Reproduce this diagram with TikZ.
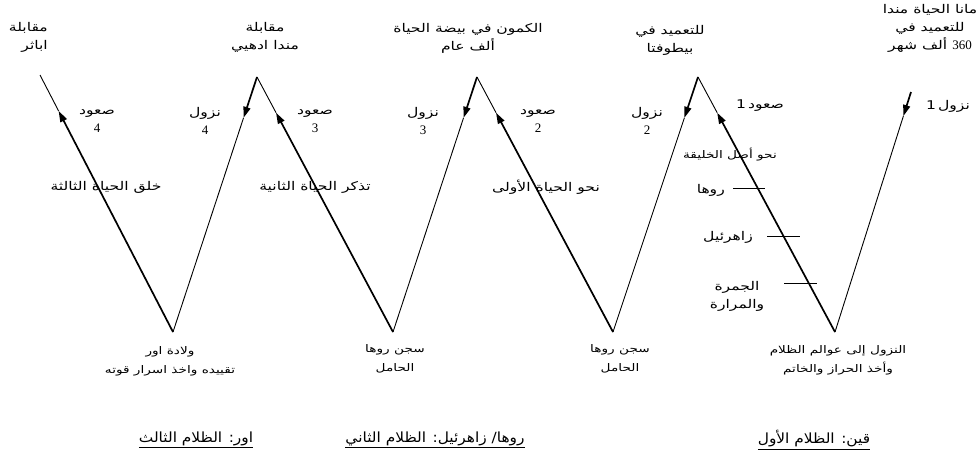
\documentclass[tikz,border=0pt]{standalone}
\usepackage{fontspec}
\TeXXeTstate=1
\newfontfamily\arabicfont[Script=Arabic,FakeStretch=1.3]{DejaVu Sans}
\newfontfamily\arabichdr[Script=Arabic,FakeStretch=1.1]{DejaVu Sans}
\newfontfamily\digitfont{Liberation Serif}
\usetikzlibrary{arrows.meta,calc}
\tikzset{
  lbl/.style={font=\arabicfont\fontsize{12}{18}\selectfont, align=center, inner sep=0pt},
  slbl/.style={font=\arabicfont\fontsize{10.5}{19}\selectfont, align=center, inner sep=0pt},
  hdr/.style={font=\arabichdr\fontsize{14}{16}\selectfont, inner sep=0pt},
  thn/.style={line width=0.9pt},
  arrowline/.style={line width=1.7pt, -{Triangle[length=11pt,width=7pt]}},
  tickline/.style={line width=0.7pt}
}
\newcommand{\rl}[1]{\beginR #1\endR}
\newcommand{\dg}[1]{{\digitfont\fontsize{13}{18}\selectfont #1}}
\begin{document}
\begin{tikzpicture}[x=1pt,y=-1pt]
\fill[white] (0,0) rectangle (980,472);
\useasboundingbox (0,0) rectangle (980,472);

% zigzag vertices
\coordinate (a0) at (40,75);
\coordinate (b1) at (173,332);
\coordinate (a1) at (257,77);
\coordinate (b2) at (393,332);
\coordinate (a2) at (477,77);
\coordinate (b3) at (613,332);
\coordinate (a3) at (698,77);
\coordinate (b4) at (835,332);
\coordinate (a4) at (911,92);

% arrow tips
\coordinate (u4) at ($(b1)!0.86!(a0)$);
\coordinate (d4) at ($(a1)!0.16!(b1)$);
\coordinate (u3) at ($(b2)!0.86!(a1)$);
\coordinate (d3) at ($(a2)!0.16!(b2)$);
\coordinate (u2) at ($(b3)!0.86!(a2)$);
\coordinate (d2) at ($(a3)!0.16!(b3)$);
\coordinate (u1) at ($(b4)!0.86!(a3)$);
\coordinate (d1) at ($(a4)!0.10!(b4)$);

% ascent segments
\draw[arrowline] (b1) -- (u4); \draw[thn] (u4) -- (a0);
\draw[arrowline] (b2) -- (u3); \draw[thn] (u3) -- (a1);
\draw[arrowline] (b3) -- (u2); \draw[thn] (u2) -- (a2);
\draw[arrowline] (b4) -- (u1); \draw[thn] (u1) -- (a3);
% descent segments
\draw[arrowline] (a1) -- (d4); \draw[thn] (d4) -- (b1);
\draw[arrowline] (a2) -- (d3); \draw[thn] (d3) -- (b2);
\draw[arrowline] (a3) -- (d2); \draw[thn] (d2) -- (b3);
\draw[arrowline] (a4) -- (d1); \draw[thn] (d1) -- (b4);

% ticks on ascent 1
\coordinate (t1a) at (733,188); \coordinate (t1b) at (765,188);
\coordinate (t2a) at (767,236); \coordinate (t2b) at (800,236);
\coordinate (t3a) at (784,283); \coordinate (t3b) at (817,283);
\draw[tickline] (t1a) -- (t1b);
\draw[tickline] (t2a) -- (t2b);
\draw[tickline] (t3a) -- (t3b);

% top labels
\node[lbl, align=right, anchor=east] (top0) at (48,37) {\rl{مقابلة}\\\rl{اباثر}};
\node[lbl] (top1) at (265,37) {\rl{مقابلة}\\\rl{مندا ادهيي}};
\node[lbl] (top2) at (468,38) {\rl{الكمون في بيضة الحياة}\\\rl{ألف عام}};
\node[lbl] (top3) at (670,40) {\rl{للتعميد في}\\\rl{بيطوفتا}};
\node[lbl] (top4) at (930,28) {\rl{مانا الحياة مندا}\\\rl{للتعميد في}\\\rl{\dg{360} ألف شهر}};

% arrow labels
\node[lbl] (s4) at (97,121) {\rl{صعود}\\\dg{4}};
\node[lbl] (n4) at (205,121) {\rl{نزول}\\\dg{4}};
\node[lbl] (s3) at (315,121) {\rl{صعود}\\\dg{3}};
\node[lbl] (n3) at (423,121) {\rl{نزول}\\\dg{3}};
\node[lbl] (s2) at (538,121) {\rl{صعود}\\\dg{2}};
\node[lbl] (n2) at (647,121) {\rl{نزول}\\\dg{2}};
\node[lbl] (s1) at (760,106) {\rl{صعود\,1}};
\node[lbl] (n1) at (948,106) {\rl{نزول\,1}};

% middle labels
\node[lbl] (m3) at (106,187) {\rl{خلق الحياة الثالثة}};
\node[lbl] (m2) at (315,187) {\rl{تذكر الحياة الثانية}};
\node[lbl] (m1) at (546,187) {\rl{نحو الحياة الأولى}};
\node[slbl] (m0) at (730,155) {\rl{نحو أصل الخليقة}};
\node[lbl, anchor=east] (rh) at (725,190) {\rl{روها}};
\node[lbl, anchor=east] (zh) at (753,237) {\rl{زاهرئيل}};
\node[lbl] (jm) at (737,296) {\rl{الجمرة}\\\rl{والمرارة}};

% bottom labels
\node[slbl] (bt3) at (170,361) {\rl{ولادة اور}\\\rl{تقييده واخذ اسرار قوته}};
\node[slbl] (bt2) at (395,359) {\rl{سجن روها}\\\rl{الحامل}};
\node[slbl] (bt1) at (620,359) {\rl{سجن روها}\\\rl{الحامل}};
\node[slbl] (bt0) at (838,360) {\rl{النزول إلى عوالم الظلام}\\\rl{وأخذ الحراز والخاتم}};

% headers
\node[hdr] (h3) at (196,440) {\underline{\rl{اور: الظلام الثالث}}};
\node[hdr] (h2) at (435,440) {\underline{\rl{روها/ زاهرئيل: الظلام الثاني}}};
\node[hdr] (h1) at (814,440) {\underline{\rl{قين: الظلام الأول}}};
\end{tikzpicture}
\end{document}
